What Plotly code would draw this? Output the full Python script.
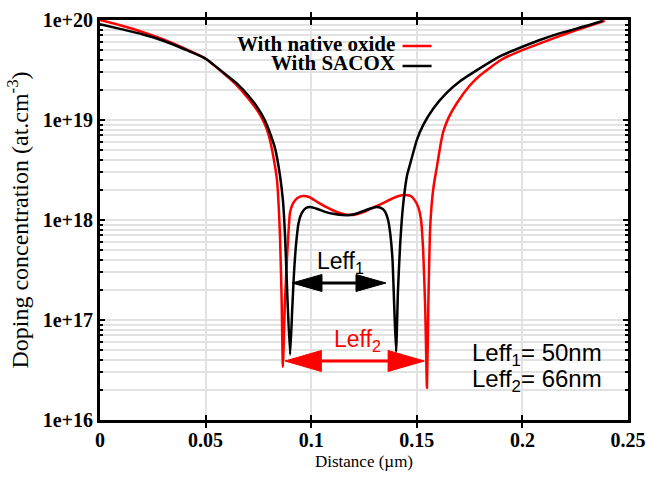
import plotly.graph_objects as go

# Doping profiles along the channel (distance in µm, concentration in at/cm^3)
native_x = [0.000, 0.010, 0.020, 0.030, 0.040, 0.050, 0.060, 0.065, 0.070, 0.075,
            0.078, 0.080, 0.082, 0.0838, 0.0852, 0.0860, 0.0866, 0.0876, 0.0885, 0.0893,
            0.0900, 0.0915, 0.0935, 0.096, 0.099, 0.103, 0.107, 0.111, 0.115, 0.118,
            0.122, 0.126, 0.130, 0.135, 0.140, 0.144, 0.147, 0.149, 0.1508, 0.152,
            0.153, 0.154, 0.1548, 0.1555, 0.1562, 0.157, 0.158, 0.1596, 0.1612, 0.1625,
            0.165, 0.169, 0.175, 0.180, 0.190, 0.200, 0.210, 0.220, 0.230, 0.239]
native_y = [1.0e20, 8.8e19, 7.6e19, 6.4e19, 5.2e19, 4.1e19, 2.75e19, 2.2e19, 1.66e19, 1.2e19,
            9.1e18, 6.9e18, 4.4e18, 2.5e18, 7.1e17, 1.6e17, 3.4e16, 1.6e17, 4.0e17, 7.9e17,
            1.2e18, 1.48e18, 1.66e18, 1.74e18, 1.7e18, 1.51e18, 1.35e18, 1.23e18, 1.15e18, 1.12e18,
            1.15e18, 1.23e18, 1.35e18, 1.51e18, 1.7e18, 1.78e18, 1.74e18, 1.58e18, 1.32e18, 1.0e18,
            5.0e17, 1.26e17, 2.1e16, 1.6e17, 7.1e17, 1.4e18, 2.2e18, 3.5e18, 5.6e18, 7.6e18,
            1.05e19, 1.48e19, 2.2e19, 2.8e19, 4.0e19, 5.0e19, 6.0e19, 7.2e19, 8.5e19, 9.8e19]

sacox_x = [0.000, 0.010, 0.020, 0.030, 0.040, 0.050, 0.060, 0.065, 0.070, 0.075,
           0.078, 0.080, 0.0829, 0.0852, 0.0866, 0.0876, 0.0886, 0.0900, 0.0910, 0.0918,
           0.0928, 0.0940, 0.0955, 0.0975, 0.0995, 0.103, 0.107, 0.111, 0.115, 0.118,
           0.122, 0.126, 0.129, 0.131, 0.133, 0.1348, 0.1364, 0.1375, 0.1385, 0.1393,
           0.1402, 0.1411, 0.1421, 0.1435, 0.1454, 0.1468, 0.150, 0.153, 0.158, 0.164,
           0.170, 0.180, 0.190, 0.200, 0.210, 0.220, 0.230, 0.238]
sacox_y = [9.1e19, 8.1e19, 7.2e19, 6.2e19, 5.1e19, 4.1e19, 2.8e19, 2.3e19, 1.78e19, 1.29e19,
           1.0e19, 7.9e18, 5.2e18, 2.8e18, 1.58e18, 7.1e17, 2.0e17, 4.5e16, 1.26e17, 2.8e17,
           5.6e17, 9.3e17, 1.17e18, 1.32e18, 1.35e18, 1.29e18, 1.2e18, 1.15e18, 1.12e18, 1.12e18,
           1.17e18, 1.26e18, 1.32e18, 1.35e18, 1.32e18, 1.23e18, 1.0e18, 7.1e17, 4.0e17, 1.4e17,
           4.8e16, 2.0e17, 5.6e17, 1.4e18, 2.8e18, 3.6e18, 6.3e18, 8.9e18, 1.32e19, 1.86e19,
           2.4e19, 3.3e19, 4.4e19, 5.4e19, 6.5e19, 7.6e19, 8.7e19, 9.8e19]

series_names = ["With native oxide", "With SACOX"]
series_colors = ["#ff0000", "#000000"]

y_tickvals = [1e16, 1e17, 1e18, 1e19, 1e20]
y_ticktext = ["1e+16", "1e+17", "1e+18", "1e+19", "1e+20"]
x_tickvals = [0, 0.05, 0.1, 0.15, 0.2, 0.25]
x_ticktext = ["0", "0.05", "0.1", "0.15", "0.2", "0.25"]

# Effective channel lengths (µm) and the arrow spans that illustrate them
leff_nm = [50, 66]
leff1_span = [0.0909, 0.1354]     # black arrow, drawn at 10^17.37
leff2_start = 0.0876              # red arrow, spans Leff2 from here
leff_levels = [17.37, 16.59]      # log10 heights of the two arrows

SERIF = "Liberation Serif, Times New Roman, serif"
SANS = "Liberation Sans, Arial, Helvetica, sans-serif"
GRID = "#e2e2e2"

fig = go.Figure()
fig.add_trace(go.Scatter(x=native_x, y=native_y, mode="lines",
                         line=dict(color=series_colors[0], width=2.5, shape="spline",
                                   smoothing=0.5),
                         name=series_names[0], showlegend=False))
fig.add_trace(go.Scatter(x=sacox_x, y=sacox_y, mode="lines",
                         line=dict(color=series_colors[1], width=2.5, shape="spline",
                                   smoothing=0.5),
                         name=series_names[1], showlegend=False))

# linear overlay axis in log10 units, used to place the arrows and labels
fig.update_layout(yaxis2=dict(overlaying="y", range=[16, 20], visible=False,
                              fixedrange=True))


def double_arrow(x0, x1, yl, color, head_len, half_h, width):
    shapes = [dict(type="line", xref="x", yref="y2", x0=x0 + head_len, x1=x1 - head_len,
                   y0=yl, y1=yl, line=dict(color=color, width=width))]
    left = f"M {x0} {yl} L {x0 + head_len} {yl + half_h} L {x0 + head_len} {yl - half_h} Z"
    right = f"M {x1} {yl} L {x1 - head_len} {yl + half_h} L {x1 - head_len} {yl - half_h} Z"
    for p in (left, right):
        shapes.append(dict(type="path", xref="x", yref="y2", path=p,
                           fillcolor=color, line=dict(color=color, width=1)))
    return shapes


shapes = []
shapes += double_arrow(leff1_span[0], leff1_span[1], leff_levels[0], "#000000",
                       0.0142, 0.085, 3)
shapes += double_arrow(leff2_start, leff2_start + leff_nm[1] / 1000, leff_levels[1], "#ff0000",
                       0.0172, 0.105, 3)

# legend line samples, to the right of the legend text
legend_y = [0.935, 0.885]
for c, ly in zip(series_colors, legend_y):
    shapes.append(dict(type="line", xref="paper", yref="paper", x0=0.573, x1=0.628,
                       y0=ly, y1=ly, line=dict(color=c, width=2.5)))

annotations = []
for name, ly in zip(series_names, [0.94, 0.892]):
    annotations.append(dict(xref="paper", yref="paper", x=0.563, y=ly, text=name,
                            showarrow=False, xanchor="right", yanchor="middle",
                            font=dict(family=SERIF, size=21, color="black", weight="bold")))

annotations.append(dict(xref="x", yref="y2", x=0.1141, y=17.58, text="Leff<sub>1</sub>",
                        showarrow=False, xanchor="center", yanchor="middle",
                        font=dict(family=SANS, size=23, color="black")))
annotations.append(dict(xref="x", yref="y2", x=0.1217, y=16.8, text="Leff<sub>2</sub>",
                        showarrow=False, xanchor="center", yanchor="middle",
                        font=dict(family=SANS, size=23, color="#ff0000")))
for i, (n, ly) in enumerate(zip(leff_nm, [0.165, 0.098])):
    annotations.append(dict(xref="paper", yref="paper", x=0.70, y=ly,
                            text=f"Leff<sub>{i + 1}</sub>= {n}nm",
                            showarrow=False, xanchor="left", yanchor="middle",
                            font=dict(family=SANS, size=24, color="black")))

fig.update_layout(
    width=646, height=480,
    margin=dict(l=100, r=18, t=20, b=60, autoexpand=False),
    paper_bgcolor="white", plot_bgcolor="white",
    shapes=shapes, annotations=annotations,
    showlegend=False,
    xaxis=dict(
        range=[0, 0.25], tickvals=x_tickvals, ticktext=x_ticktext, automargin=False,
        showgrid=True, gridcolor=GRID, gridwidth=2,
        showline=True, linecolor="black", linewidth=3, mirror="allticks",
        ticks="inside", ticklen=5, tickwidth=2, tickcolor="black",
        zeroline=False,
        tickfont=dict(family=SERIF, size=20, color="black", weight="bold"),
        title=dict(text="Distance (µm)", standoff=6,
                   font=dict(family=SERIF, size=17, color="black")),
    ),
    yaxis=dict(
        type="log", range=[16, 20], tickvals=y_tickvals, ticktext=y_ticktext, automargin=False,
        showgrid=True, gridcolor=GRID, gridwidth=2,
        showline=True, linecolor="black", linewidth=3, mirror="allticks",
        ticks="inside", ticklen=5, tickwidth=2, tickcolor="black",
        zeroline=False,
        minor=dict(dtick="D1", ticks="inside", ticklen=3, tickwidth=1.5, tickcolor="black",
                   showgrid=True, gridcolor=GRID, gridwidth=2),
        tickfont=dict(family=SERIF, size=20, color="black", weight="bold"),
        title=dict(text="Doping concentration (at.cm<sup>-3</sup>)", standoff=8,
                   font=dict(family=SERIF, size=24, color="black")),
    ),
)

fig.write_html("out.html")
